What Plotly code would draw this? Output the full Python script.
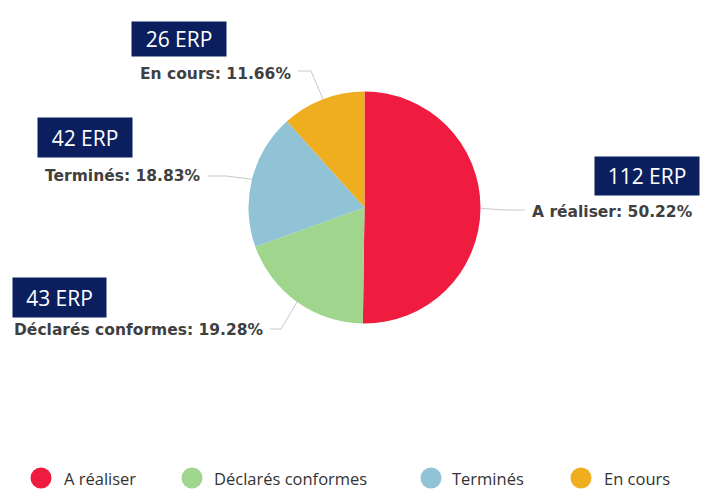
import math
import plotly.graph_objects as go

# ---- data ----
categories = ["A réaliser", "Déclarés conformes", "Terminés", "En cours"]
counts = [112, 43, 42, 26]
colors = ["#F01C3F", "#A0D58E", "#90C3D5", "#EFAE1F"]

W, H = 712, 489
CX, CY, R = 364.5, 207.5, 116.0   # pie centre / radius in pixels

def px(x):
    return x / W

def py(y):
    return 1 - y / H

total = sum(counts)
pcts = [c / total * 100 for c in counts]

fig = go.Figure()
fig.add_trace(go.Pie(
    labels=categories,
    values=counts,
    marker=dict(colors=colors, line=dict(width=0)),
    sort=False,
    direction="clockwise",
    rotation=0,
    textinfo="none",
    showlegend=False,
    domain=dict(x=[px(CX - R), px(CX + R)], y=[py(CY + R), py(CY - R)]),
))

# layout placement of the outside labels (pixels)
label_anchor = [  # (x, y, xanchor)
    (530, 212, "left"),
    (266, 330, "right"),
    (203, 176, "right"),
    (293, 74, "right"),
]
elbows = [  # (elbow point, line end near label)
    ((505, 210), (525, 210)),
    ((281, 329), (270, 329)),
    ((226, 176), (208, 176)),
    ((311, 71), (298, 71)),
]
boxes = [  # centre x, centre y, w, h
    (647, 176, 104, 38),
    (59.5, 297.5, 93, 39),
    (85, 137.5, 94, 39),
    (179, 39, 94, 34),
]

shapes = []
annotations = []
cum = 0.0
for i, (cat, c, p) in enumerate(zip(categories, counts, pcts)):
    mid = (cum + c / 2) / total * 2 * math.pi
    cum += c
    ex = CX + R * math.sin(mid)
    ey = CY - R * math.cos(mid)
    (elx, ely), (lx, ly) = elbows[i]
    path = f"M {px(ex)},{py(ey)} L {px(elx)},{py(ely)} L {px(lx)},{py(ly)}"
    shapes.append(dict(type="path", path=path, xref="paper", yref="paper",
                       line=dict(color="#C8C8C8", width=1)))
    ax, ay, xa = label_anchor[i]
    annotations.append(dict(
        x=px(ax), y=py(ay), xref="paper", yref="paper", xanchor=xa, yanchor="middle",
        showarrow=False, text=f"<b>{cat}: {p:.2f}%</b>",
        font=dict(family="DejaVu Sans", size=15.5, color="#404040"),
    ))
    bx, by, bw, bh = boxes[i]
    annotations.append(dict(
        x=px(bx), y=py(by), xref="paper", yref="paper", xanchor="center", yanchor="middle",
        showarrow=False, text=f"{c} ERP", width=bw, height=bh, borderpad=0,
        bgcolor="#0B1F5F", align="center", valign="middle",
        font=dict(family="Open Sans", size=21, color="white"),
    ))

# custom legend with circle symbols
leg_circle_x = [41, 192, 431, 581]
leg_text_x = [62, 212, 450, 602]
leg_y = 478
d = 21
for i, cat in enumerate(categories):
    cx = leg_circle_x[i]
    shapes.append(dict(type="circle", xref="paper", yref="paper",
                       x0=px(cx - d / 2), x1=px(cx + d / 2),
                       y0=py(leg_y + d / 2), y1=py(leg_y - d / 2),
                       fillcolor=colors[i], line=dict(width=0)))
    annotations.append(dict(
        x=px(leg_text_x[i]), y=py(leg_y), xref="paper", yref="paper",
        xanchor="left", yanchor="middle", showarrow=False, text=cat,
        font=dict(family="Open Sans", size=16.5, color="#333333"),
    ))

fig.update_layout(
    width=W, height=H,
    margin=dict(l=0, r=0, t=0, b=0),
    paper_bgcolor="white", plot_bgcolor="white",
    shapes=shapes, annotations=annotations,
    showlegend=False,
)
fig.write_html("out.html")
